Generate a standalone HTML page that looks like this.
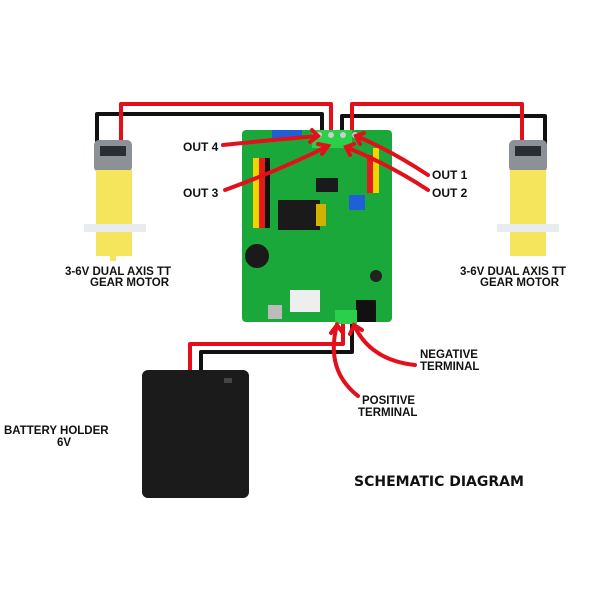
<!DOCTYPE html>
<html><head><meta charset="utf-8"><style>
html,body{margin:0;padding:0;background:#fff}
svg{display:block}
text{font-family:"Liberation Sans",sans-serif;font-weight:bold;fill:#111}
</style></head><body>
<svg width="600" height="600" viewBox="0 0 600 600" xmlns="http://www.w3.org/2000/svg">
<rect width="600" height="600" fill="#fff"/>
<!-- wires -->
<g fill="none" stroke-width="4" stroke-linejoin="round">
<path d="M97 150 V114 H322 V132" stroke="#111"/>
<path d="M121 140 V104 H331 V132" stroke="#e3101b"/>
<path d="M342 132 V116 H545 V150" stroke="#111"/>
<path d="M352 132 V104 H522 V140" stroke="#e3101b"/>
<path d="M343 318 V344 H190 V372" stroke="#e3101b"/>
<path d="M352 318 V352 H201 V372" stroke="#111"/>
</g>
<!-- left motor -->
<rect x="94" y="140" width="38" height="32" rx="5" fill="#8c9198"/>
<rect x="100" y="146" width="26" height="10" fill="#2a2d31"/>
<rect x="96" y="170" width="36" height="86" fill="#f5e55c"/>
<rect x="84" y="224" width="62" height="8" fill="#e8ecef"/>
<rect x="110" y="255" width="6" height="6" fill="#f5e55c"/>
<!-- right motor -->
<rect x="509" y="140" width="38" height="32" rx="5" fill="#8c9198"/>
<rect x="515" y="146" width="26" height="10" fill="#2a2d31"/>
<rect x="510" y="170" width="36" height="86" fill="#f5e55c"/>
<rect x="497" y="224" width="62" height="8" fill="#e8ecef"/>
<!-- board -->
<rect x="242" y="130" width="150" height="192" rx="4" fill="#1aa83a"/>
<rect x="272" y="130" width="30" height="8" fill="#1f5fd8"/>
<rect x="312" y="130" width="40" height="18" fill="#2bd04a"/>
<circle cx="319" cy="135" r="3" fill="#ccc"/><circle cx="331" cy="135" r="3" fill="#ccc"/>
<circle cx="343" cy="135" r="3" fill="#ccc"/><circle cx="355" cy="135" r="3" fill="#ccc"/>
<rect x="253" y="158" width="6" height="70" fill="#f4d400"/>
<rect x="259" y="158" width="6" height="70" fill="#e21b1b"/>
<rect x="265" y="158" width="5" height="70" fill="#111"/>
<rect x="373" y="148" width="6" height="45" fill="#f4d400"/>
<rect x="367" y="155" width="6" height="38" fill="#e21b1b"/>
<rect x="278" y="200" width="42" height="30" fill="#1a1a1a"/>
<rect x="316" y="204" width="10" height="22" fill="#d4b000"/>
<rect x="316" y="178" width="22" height="14" fill="#1a1a1a"/>
<rect x="349" y="195" width="16" height="15" fill="#1f5fd8"/>
<circle cx="257" cy="256" r="12" fill="#1a1a1a"/>
<rect x="290" y="290" width="30" height="22" fill="#eee"/>
<rect x="268" y="305" width="14" height="14" fill="#bbb"/>
<rect x="356" y="300" width="20" height="22" fill="#111"/>
<rect x="335" y="310" width="22" height="14" fill="#2bd04a"/>
<circle cx="376" cy="276" r="6" fill="#222"/>
<!-- battery -->
<rect x="142" y="370" width="107" height="128" rx="6" fill="#1b1b1b"/>
<rect x="224" y="378" width="8" height="5" fill="#444"/>
<!-- red arrows -->
<g fill="none" stroke="#e3101b" stroke-width="4" stroke-linecap="round">
<path d="M223 145 Q270 140 318 136"/><path d="M312 130 L318 136 L310 142"/>
<path d="M225 190 Q280 170 328 146"/><path d="M318 144 L328 146 L322 154"/>
<path d="M428 175 Q390 150 356 136"/><path d="M364 133 L356 136 L360 144"/>
<path d="M428 190 Q390 165 346 147"/><path d="M354 144 L346 147 L350 155"/>
<path d="M358 396 Q325 370 337 325"/><path d="M331 333 L337 325 L343 333"/>
<path d="M415 365 Q370 360 354 325"/><path d="M350 334 L354 325 L362 330"/>
</g>
<!-- labels -->
<text x="183" y="151" font-size="12">OUT 4</text>
<text x="183" y="197" font-size="12">OUT 3</text>
<text x="432" y="179" font-size="12">OUT 1</text>
<text x="432" y="197" font-size="12">OUT 2</text>
<text x="65" y="275" font-size="11.5">3-6V DUAL AXIS TT</text>
<text x="90" y="286" font-size="11.5">GEAR MOTOR</text>
<text x="460" y="275" font-size="11.5">3-6V DUAL AXIS TT</text>
<text x="480" y="286" font-size="11.5">GEAR MOTOR</text>
<text x="420" y="358" font-size="11.5">NEGATIVE</text>
<text x="420" y="370" font-size="11.5">TERMINAL</text>
<text x="362" y="404" font-size="11.5">POSITIVE</text>
<text x="358" y="416" font-size="11.5">TERMINAL</text>
<text x="4" y="434" font-size="11.5">BATTERY HOLDER</text>
<text x="57" y="446" font-size="11.5">6V</text>
<text x="354" y="486" font-size="14" style="font-family:'DejaVu Sans',sans-serif">SCHEMATIC DIAGRAM</text>
</svg>
</body></html>
